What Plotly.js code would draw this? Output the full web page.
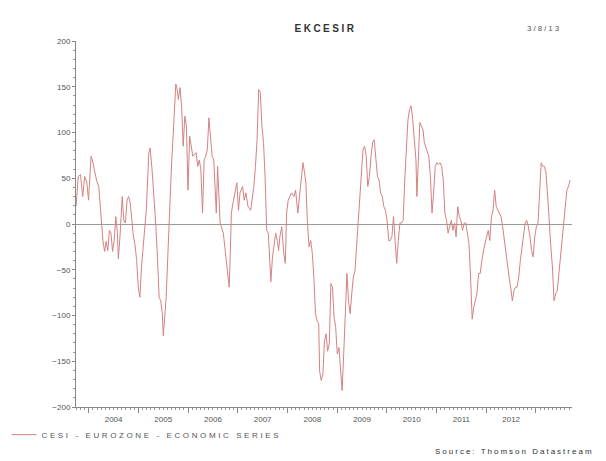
<!DOCTYPE html>
<html><head><meta charset="utf-8">
<script src="https://cdn.plot.ly/plotly-3.0.1.min.js"></script>
<style>
html,body{margin:0;padding:0;background:#fff;}
#chart{width:606px;height:461px;}
.legendtext{letter-spacing:2.6px;}
.gtitle{letter-spacing:2.5px;}
.annotation-text{letter-spacing:2px;}
</style>
</head><body><div id="chart"></div>
<script>
// Time in decimal years, values of the CESI - Eurozone index
const years = [
2003.745,2003.789,2003.834,2003.879,2003.918,2003.963,2003.996,2004.047,2004.073,2004.125,2004.157,2004.202,2004.222,2004.254,2004.286,2004.319,2004.351,2004.383,2004.416,2004.448,2004.480,2004.512,2004.545,2004.577,2004.596,2004.629,2004.674,2004.706,2004.739,2004.771,2004.803,2004.835,2004.868,2004.900,2004.932,2004.965,2004.997,2005.029,2005.062,2005.107,2005.158,2005.210,2005.236,2005.275,2005.320,2005.352,2005.391,2005.417,2005.449,2005.481,2005.501,2005.527,2005.559,2005.591,2005.624,2005.662,2005.708,2005.753,2005.779,2005.804,2005.837,2005.869,2005.901,2005.934,2005.966,2005.998,2006.031,2006.063,2006.095,
2006.160,2006.193,2006.225,2006.257,2006.290,2006.322,2006.354,2006.386,2006.419,2006.451,2006.483,2006.516,2006.567,2006.593,2006.645,2006.709,2006.755,2006.774,2006.826,2006.852,2006.871,2006.903,2006.936,2006.981,2007.013,2007.045,2007.097,2007.129,2007.162,2007.207,2007.259,2007.291,2007.323,2007.355,2007.388,2007.420,2007.452,2007.485,2007.517,2007.549,2007.582,2007.614,2007.646,2007.665,2007.698,2007.730,2007.762,2007.795,2007.821,2007.846,2007.885,2007.924,2007.956,2007.982,2008.014,2008.047,2008.079,2008.131,2008.163,2008.208,2008.234,2008.273,2008.311,2008.344,2008.370,2008.402,2008.434,2008.467,2008.499,2008.531,2008.563,2008.596,2008.628,
2008.647,2008.679,2008.712,2008.744,2008.776,2008.808,2008.841,2008.873,2008.905,2008.938,2008.970,2009.002,2009.035,2009.067,2009.099,2009.131,2009.164,2009.196,2009.228,2009.261,2009.293,2009.325,2009.358,2009.390,2009.422,2009.455,2009.487,2009.519,2009.551,2009.584,2009.616,2009.648,2009.681,2009.713,2009.745,2009.778,2009.810,2009.842,2009.874,2009.907,2009.939,2009.971,2010.004,2010.036,2010.068,2010.101,2010.133,2010.165,2010.197,2010.230,2010.262,2010.294,2010.327,2010.359,2010.391,2010.424,2010.456,2010.488,2010.520,2010.553,2010.585,2010.604,2010.630,2010.663,2010.695,2010.727,2010.753,2010.779,2010.811,2010.843,2010.876,2010.908,2010.940,2010.973,2011.005,2011.037,2011.070,2011.102,2011.134,
2011.167,2011.199,2011.232,2011.264,2011.296,2011.328,2011.361,2011.393,2011.425,2011.458,2011.490,2011.522,2011.555,2011.587,2011.619,2011.652,2011.684,2011.716,2011.748,2011.781,2011.813,2011.845,2011.878,2011.910,2011.942,2011.975,2012.007,2012.039,2012.071,2012.104,2012.136,2012.168,2012.200,2012.233,2012.265,2012.297,2012.330,2012.362,2012.394,2012.427,2012.459,2012.491,2012.524,2012.556,2012.588,2012.620,2012.653,2012.685,2012.717,2012.750,2012.782,2012.814,2012.847,2012.879,2012.911,2012.944,2012.976,2013.008,2013.041,2013.073,2013.105,2013.137,2013.170,2013.202,2013.234,2013.267,2013.299,2013.331,2013.364,2013.396,2013.428,2013.461,2013.493,2013.525,2013.558,2013.590,2013.622,2013.654,2013.687
];
const cesi = [
19,52,54,30,52,45,26,74,70,54,48,41,26,8,-18,-30,-19,-29,-7,-10,-30,-18,8,-10,-38,-14,30,4,1,26,30,23,4,-14,-23,-40,-69,-80,-47,-14,15,78,83,59,23,-3,-47,-80,-84,-98,-122,-98,-80,-36,12,59,107,153,147,136,149,129,85,118,107,37,96,85,74,
78,63,70,59,12,70,74,81,116,89,74,70,12,63,1,-10,-32,-40,-69,-25,12,23,34,45,15,34,41,26,34,19,15,26,41,63,92,147,144,107,89,52,-7,-10,-40,-63,-36,-25,-10,-18,-29,-14,-3,-32,-43,12,26,30,34,30,37,12,26,41,67,56,45,1,-25,-18,-32,-58,-98,-106,-109,
-161,-171,-164,-128,-120,-139,-131,-65,-69,-102,-113,-142,-135,-161,-182,-142,-84,-54,-84,-98,-76,-58,-51,-25,8,26,63,81,85,74,41,52,74,89,92,70,52,48,34,30,19,15,4,-18,-18,-14,8,-18,-43,-18,1,1,4,48,89,114,125,129,114,89,70,30,70,111,107,103,89,85,81,74,52,12,34,63,67,65,67,63,48,
12,4,-10,-3,4,-7,1,-14,19,8,4,-7,1,1,-10,-21,-58,-104,-91,-84,-76,-54,-54,-40,-29,-21,-14,-7,-18,8,15,37,19,15,12,8,-3,-18,-32,-43,-58,-69,-84,-73,-69,-69,-58,-40,-25,-10,1,4,-3,-14,-29,-36,-14,-3,1,34,67,63,63,56,34,4,-25,-47,-84,-76,-73,-54,-32,-14,-3,23,37,41,48
];
const yearLabels = ['2004','2005','2006','2007','2008','2009','2010','2011','2012'];
const labelPos = [2004.5,2005.5,2006.5,2007.5,2008.5,2009.5,2010.5,2011.5,2012.5];
const yearBounds = [2004,2005,2006,2007,2008,2009,2010,2011,2012,2013];
const xRange = [2003.744, 2013.725];
const seriesName = 'CESI - EUROZONE - ECONOMIC SERIES';

const txt = '#555';
const fam = 'Liberation Sans, Arial, sans-serif';

const data = [
  {type: 'scatter', mode: 'lines', x: years, y: cesi, name: seriesName,
   line: {color: '#d58282', width: 1}, hoverinfo: 'skip'},
  // same series on the label axis (invisible) so the year-label axis is drawn
  {type: 'scatter', mode: 'lines', x: years, y: cesi, xaxis: 'x2', yaxis: 'y',
   line: {color: 'rgba(0,0,0,0)', width: 0}, showlegend: false, hoverinfo: 'skip'}
];

const layout = {
  width: 606, height: 461,
  margin: {l: 57, r: 34, t: 41, b: 52},
  paper_bgcolor: '#fff', plot_bgcolor: '#fff',
  font: {family: fam, size: 8, color: txt},
  title: {text: 'EKCESIR', font: {family: fam, size: 10, color: '#333', weight: 'bold'},
          xref: 'paper', x: 0.503, xanchor: 'center', yref: 'container', y: 1 - 28/461, yanchor: 'middle'},
  showlegend: true,
  legend: {orientation: 'h', x: -0.130, xanchor: 'left', y: -0.036, yanchor: 'top',
           indentation: -10,
           font: {family: fam, size: 8, color: txt}, bgcolor: 'rgba(0,0,0,0)', borderwidth: 0},
  xaxis: {
    type: 'linear', range: xRange, tickmode: 'array', tickvals: yearBounds,
    showticklabels: false, ticks: 'outside', ticklen: 5, tickcolor: '#888', tickwidth: 1,
    minor: {dtick: 1/12, tick0: 2004, ticks: 'outside', ticklen: 2, tickcolor: '#999', showgrid: false},
    showline: true, linecolor: '#888', linewidth: 1, showgrid: false, zeroline: false, fixedrange: true
  },
  xaxis2: {
    type: 'linear', range: xRange, overlaying: 'x', anchor: 'y', side: 'bottom',
    tickmode: 'array', tickvals: labelPos, ticktext: yearLabels, ticks: '',
    ticklabelstandoff: 6,
    showline: false, showgrid: false, zeroline: false, tickfont: {family: fam, size: 8, color: txt}
  },
  yaxis: {
    range: [-200, 200], tickmode: 'linear', tick0: 0, dtick: 50,
    ticks: 'outside', ticklen: 3, tickcolor: '#888',
    minor: {dtick: 10, ticks: 'outside', ticklen: 2, tickcolor: '#999', showgrid: false},
    showline: true, linecolor: '#888', linewidth: 1, showgrid: false,
    zeroline: true, zerolinecolor: '#9a9a9a', zerolinewidth: 1,
    tickfont: {family: fam, size: 8, color: txt}, fixedrange: true
  },
  annotations: [
    {text: '3/8/13', xref: 'paper', yref: 'paper', x: (543-57)/515, y: (409-28)/368,
     xanchor: 'center', yanchor: 'middle', showarrow: false, font: {family: fam, size: 8, color: txt}},
    {text: 'Source: Thomson Datastream', xref: 'paper', yref: 'paper', x: (597-57)/515, y: (409-454)/368,
     xanchor: 'right', yanchor: 'middle', showarrow: false, font: {family: fam, size: 8, color: '#333'}}
  ]
};

Plotly.newPlot('chart', data, layout, {displayModeBar: false, staticPlot: true});
</script></body></html>
